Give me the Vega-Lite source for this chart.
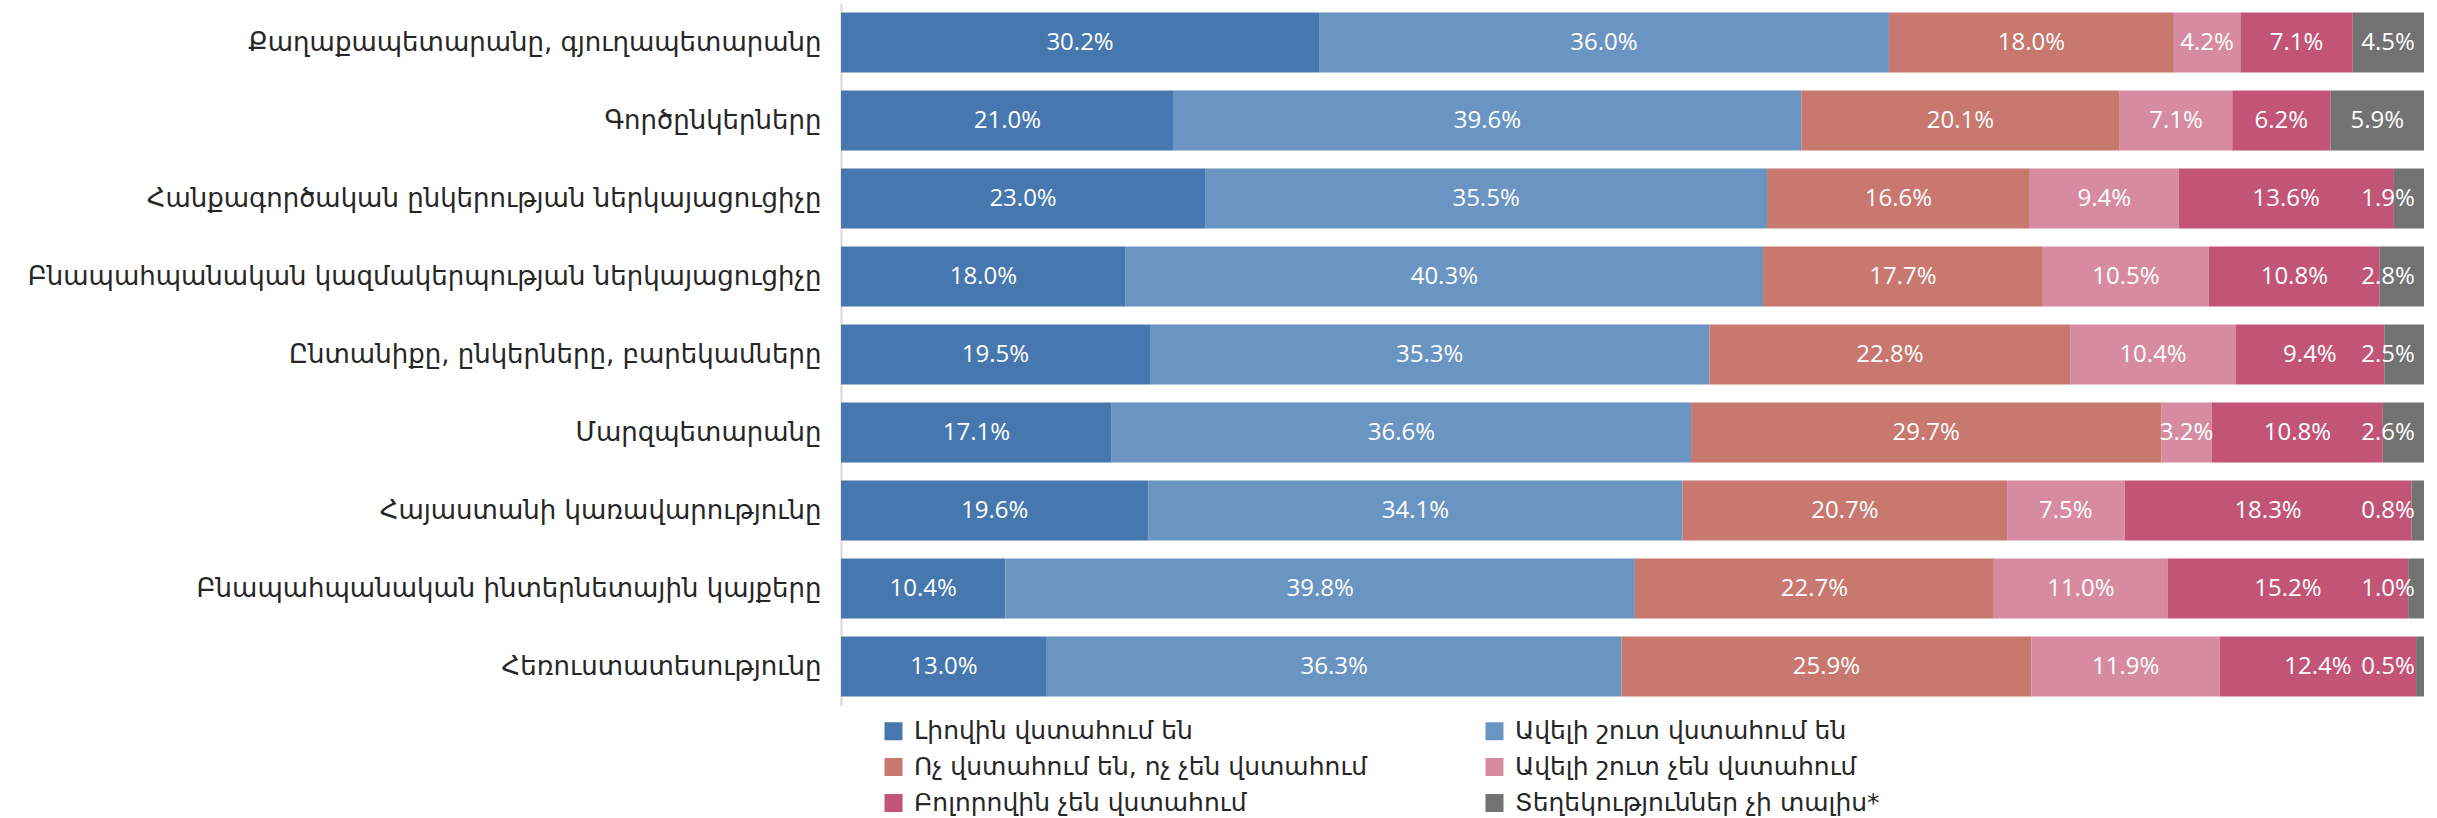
{
  "$schema": "https://vega.github.io/schema/vega-lite/v6.json",
  "width": 1583,
  "height": 702,
  "autosize": {"type": "none"},
  "padding": {"left": 841, "top": 3.5, "right": 13, "bottom": 112.5},
  "background": "white",
  "config": {"view": {"stroke": null}},
  "data": {"values": [
    {"source": "Քաղաքապետարանը, գյուղապետարանը", "category": "Լիովին վստահում են", "value": 30.2},
    {"source": "Քաղաքապետարանը, գյուղապետարանը", "category": "Ավելի շուտ վստահում են", "value": 36.0},
    {"source": "Քաղաքապետարանը, գյուղապետարանը", "category": "Ոչ վստահում են, ոչ չեն վստահում", "value": 18.0},
    {"source": "Քաղաքապետարանը, գյուղապետարանը", "category": "Ավելի շուտ չեն վստահում", "value": 4.2},
    {"source": "Քաղաքապետարանը, գյուղապետարանը", "category": "Բոլորովին չեն վստահում", "value": 7.1},
    {"source": "Քաղաքապետարանը, գյուղապետարանը", "category": "Տեղեկություններ չի տալիս*", "value": 4.5},
    {"source": "Գործընկերները", "category": "Լիովին վստահում են", "value": 21.0},
    {"source": "Գործընկերները", "category": "Ավելի շուտ վստահում են", "value": 39.6},
    {"source": "Գործընկերները", "category": "Ոչ վստահում են, ոչ չեն վստահում", "value": 20.1},
    {"source": "Գործընկերները", "category": "Ավելի շուտ չեն վստահում", "value": 7.1},
    {"source": "Գործընկերները", "category": "Բոլորովին չեն վստահում", "value": 6.2},
    {"source": "Գործընկերները", "category": "Տեղեկություններ չի տալիս*", "value": 5.9},
    {"source": "Հանքագործական ընկերության ներկայացուցիչը", "category": "Լիովին վստահում են", "value": 23.0},
    {"source": "Հանքագործական ընկերության ներկայացուցիչը", "category": "Ավելի շուտ վստահում են", "value": 35.5},
    {"source": "Հանքագործական ընկերության ներկայացուցիչը", "category": "Ոչ վստահում են, ոչ չեն վստահում", "value": 16.6},
    {"source": "Հանքագործական ընկերության ներկայացուցիչը", "category": "Ավելի շուտ չեն վստահում", "value": 9.4},
    {"source": "Հանքագործական ընկերության ներկայացուցիչը", "category": "Բոլորովին չեն վստահում", "value": 13.6},
    {"source": "Հանքագործական ընկերության ներկայացուցիչը", "category": "Տեղեկություններ չի տալիս*", "value": 1.9},
    {"source": "Բնապահպանական կազմակերպության ներկայացուցիչը", "category": "Լիովին վստահում են", "value": 18.0},
    {"source": "Բնապահպանական կազմակերպության ներկայացուցիչը", "category": "Ավելի շուտ վստահում են", "value": 40.3},
    {"source": "Բնապահպանական կազմակերպության ներկայացուցիչը", "category": "Ոչ վստահում են, ոչ չեն վստահում", "value": 17.7},
    {"source": "Բնապահպանական կազմակերպության ներկայացուցիչը", "category": "Ավելի շուտ չեն վստահում", "value": 10.5},
    {"source": "Բնապահպանական կազմակերպության ներկայացուցիչը", "category": "Բոլորովին չեն վստահում", "value": 10.8},
    {"source": "Բնապահպանական կազմակերպության ներկայացուցիչը", "category": "Տեղեկություններ չի տալիս*", "value": 2.8},
    {"source": "Ընտանիքը, ընկերները, բարեկամները", "category": "Լիովին վստահում են", "value": 19.5},
    {"source": "Ընտանիքը, ընկերները, բարեկամները", "category": "Ավելի շուտ վստահում են", "value": 35.3},
    {"source": "Ընտանիքը, ընկերները, բարեկամները", "category": "Ոչ վստահում են, ոչ չեն վստահում", "value": 22.8},
    {"source": "Ընտանիքը, ընկերները, բարեկամները", "category": "Ավելի շուտ չեն վստահում", "value": 10.4},
    {"source": "Ընտանիքը, ընկերները, բարեկամները", "category": "Բոլորովին չեն վստահում", "value": 9.4},
    {"source": "Ընտանիքը, ընկերները, բարեկամները", "category": "Տեղեկություններ չի տալիս*", "value": 2.5},
    {"source": "Մարզպետարանը", "category": "Լիովին վստահում են", "value": 17.1},
    {"source": "Մարզպետարանը", "category": "Ավելի շուտ վստահում են", "value": 36.6},
    {"source": "Մարզպետարանը", "category": "Ոչ վստահում են, ոչ չեն վստահում", "value": 29.7},
    {"source": "Մարզպետարանը", "category": "Ավելի շուտ չեն վստահում", "value": 3.2},
    {"source": "Մարզպետարանը", "category": "Բոլորովին չեն վստահում", "value": 10.8},
    {"source": "Մարզպետարանը", "category": "Տեղեկություններ չի տալիս*", "value": 2.6},
    {"source": "Հայաստանի կառավարությունը", "category": "Լիովին վստահում են", "value": 19.6},
    {"source": "Հայաստանի կառավարությունը", "category": "Ավելի շուտ վստահում են", "value": 34.1},
    {"source": "Հայաստանի կառավարությունը", "category": "Ոչ վստահում են, ոչ չեն վստահում", "value": 20.7},
    {"source": "Հայաստանի կառավարությունը", "category": "Ավելի շուտ չեն վստահում", "value": 7.5},
    {"source": "Հայաստանի կառավարությունը", "category": "Բոլորովին չեն վստահում", "value": 18.3},
    {"source": "Հայաստանի կառավարությունը", "category": "Տեղեկություններ չի տալիս*", "value": 0.8},
    {"source": "Բնապահպանական ինտերնետային կայքերը", "category": "Լիովին վստահում են", "value": 10.4},
    {"source": "Բնապահպանական ինտերնետային կայքերը", "category": "Ավելի շուտ վստահում են", "value": 39.8},
    {"source": "Բնապահպանական ինտերնետային կայքերը", "category": "Ոչ վստահում են, ոչ չեն վստահում", "value": 22.7},
    {"source": "Բնապահպանական ինտերնետային կայքերը", "category": "Ավելի շուտ չեն վստահում", "value": 11.0},
    {"source": "Բնապահպանական ինտերնետային կայքերը", "category": "Բոլորովին չեն վստահում", "value": 15.2},
    {"source": "Բնապահպանական ինտերնետային կայքերը", "category": "Տեղեկություններ չի տալիս*", "value": 1.0},
    {"source": "Հեռուստատեսությունը", "category": "Լիովին վստահում են", "value": 13.0},
    {"source": "Հեռուստատեսությունը", "category": "Ավելի շուտ վստահում են", "value": 36.3},
    {"source": "Հեռուստատեսությունը", "category": "Ոչ վստահում են, ոչ չեն վստահում", "value": 25.9},
    {"source": "Հեռուստատեսությունը", "category": "Ավելի շուտ չեն վստահում", "value": 11.9},
    {"source": "Հեռուստատեսությունը", "category": "Բոլորովին չեն վստահում", "value": 12.4},
    {"source": "Հեռուստատեսությունը", "category": "Տեղեկություններ չի տալիս*", "value": 0.5}
  ]},
  "transform": [
    {"calculate": "indexof(['Լիովին վստահում են','Ավելի շուտ վստահում են','Ոչ վստահում են, ոչ չեն վստահում','Ավելի շուտ չեն վստահում','Բոլորովին չեն վստահում','Տեղեկություններ չի տալիս*'], datum.category)", "as": "ci"},
    {"stack": "value", "groupby": ["source"], "sort": [{"field": "ci", "order": "ascending"}], "offset": "normalize", "as": ["v0", "v1"]},
    {"calculate": "min((datum.v0 + datum.v1) / 2, 1 - 0.0227)", "as": "vmid"},
    {"calculate": "format(datum.value, '.1f') + '%'", "as": "label"}
  ],
  "encoding": {
    "y": {
      "field": "source",
      "type": "nominal",
      "sort": ["Քաղաքապետարանը, գյուղապետարանը", "Գործընկերները", "Հանքագործական ընկերության ներկայացուցիչը", "Բնապահպանական կազմակերպության ներկայացուցիչը", "Ընտանիքը, ընկերները, բարեկամները", "Մարզպետարանը", "Հայաստանի կառավարությունը", "Բնապահպանական ինտերնետային կայքերը", "Հեռուստատեսությունը"],
      "scale": {"paddingInner": 0.2308, "paddingOuter": 0.1154},
      "axis": {
        "title": null,
        "ticks": false,
        "domainColor": "#d9d9d9",
        "domainWidth": 2,
        "labelFont": "DejaVu Sans",
        "labelFontSize": 26,
        "labelColor": "#262626",
        "labelPadding": 20,
        "labelLimit": 1000
      }
    }
  },
  "layer": [
    {
      "mark": {"type": "bar"},
      "encoding": {
        "x": {"field": "v0", "type": "quantitative", "scale": {"domain": [0, 1], "nice": false, "zero": true}, "axis": null},
        "x2": {"field": "v1"},
        "color": {
          "field": "category",
          "type": "nominal",
          "scale": {
            "domain": ["Լիովին վստահում են", "Ավելի շուտ վստահում են", "Ոչ վստահում են, ոչ չեն վստահում", "Ավելի շուտ չեն վստահում", "Բոլորովին չեն վստահում", "Տեղեկություններ չի տալիս*"],
            "range": ["#4677af", "#6a94c2", "#c8786e", "#d78ba2", "#c25577", "#727272"]
          },
          "legend": {
            "title": null,
            "orient": "none",
            "legendX": 40,
            "legendY": 715,
            "direction": "horizontal",
            "columns": 2,
            "columnPadding": 114,
            "rowPadding": 10,
            "padding": 0,
            "symbolType": "square",
            "symbolSize": 324,
            "symbolStrokeWidth": 0,
            "symbolOffset": 0,
            "labelFont": "DejaVu Sans",
            "labelFontSize": 25,
            "labelColor": "#262626",
            "labelOffset": 8,
            "labelLimit": 1000,
            "gridAlign": "all"
          }
        }
      }
    },
    {
      "mark": {"type": "text", "color": "white", "font": "Open Sans", "fontSize": 24, "align": "center", "baseline": "middle"},
      "encoding": {
        "x": {"field": "vmid", "type": "quantitative"},
        "text": {"field": "label", "type": "nominal"}
      }
    }
  ]
}
